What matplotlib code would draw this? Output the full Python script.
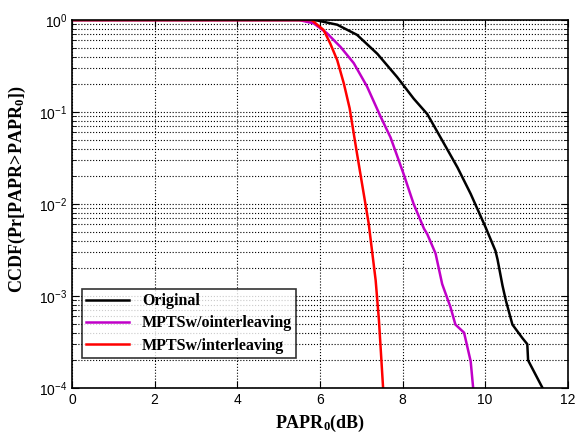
import matplotlib
matplotlib.use('Agg')
import matplotlib.pyplot as plt
import numpy as np
from matplotlib.ticker import LogLocator, NullFormatter, MultipleLocator

plt.rcParams['font.family'] = ['Liberation Sans', 'DejaVu Sans']
plt.rcParams['mathtext.fontset'] = 'custom'
plt.rcParams['mathtext.bf'] = 'Liberation Serif:bold'
plt.rcParams['mathtext.rm'] = 'Liberation Sans'
plt.rcParams['mathtext.default'] = 'regular'

# Original
orig_x = [0, 5.6, 5.93, 6.42, 6.90, 7.39, 7.87, 8.27, 8.60, 8.92, 9.33, 9.65, 10.01,
          10.25, 10.30, 10.42, 10.50, 10.66, 10.90, 11.02, 11.04, 11.39]
orig_y = [1.0, 1.0, 0.99, 0.89, 0.69, 0.43, 0.24, 0.14, 0.095, 0.053, 0.025, 0.0129, 0.0056,
          0.0031, 0.0025, 0.0013, 0.0009, 0.00049, 0.00035, 0.0003, 0.0002, 0.0001]

# MPTS w/o interleaving
wo_x = [0, 5.5, 5.85, 6.17, 6.50, 6.82, 7.14, 7.47, 7.71, 8.03, 8.27, 8.52, 8.60, 8.80,
        8.96, 9.16, 9.28, 9.49, 9.65, 9.71]
wo_y = [1.0, 1.0, 0.92, 0.72, 0.51, 0.34, 0.19, 0.089, 0.053, 0.021, 0.01, 0.0054, 0.0047, 0.0029,
        0.00135, 0.00076, 0.00049, 0.0004, 0.000195, 0.0001]

# MPTS w/ interleaving
w_x = [0, 5.8, 6.09, 6.25, 6.42, 6.58, 6.72, 6.90, 7.06, 7.18, 7.35, 7.43, 7.53]
w_y = [1.0, 1.0, 0.78, 0.557, 0.366, 0.204, 0.11, 0.035, 0.013, 0.0062, 0.00148, 0.00054, 0.0001]

fig = plt.figure(figsize=(5.77, 4.36), dpi=100)
ax = fig.add_axes([0.1248, 0.110, 0.8592, 0.844])

ax.semilogy(orig_x, orig_y, color='black', lw=1.8, label='Original')
ax.semilogy(wo_x, wo_y, color='#c000c8', lw=1.8, label='MPTSw/ointerleaving')
ax.semilogy(w_x, w_y, color='#ff0000', lw=1.8, label='MPTSw/interleaving')

ax.set_xlim(0, 12)
ax.set_ylim(1e-4, 1)
ax.xaxis.set_major_locator(MultipleLocator(2))
ax.yaxis.set_major_locator(LogLocator(base=10, numticks=10))
ax.yaxis.set_minor_locator(LogLocator(base=10, subs=np.arange(2, 10), numticks=10))
ax.yaxis.set_minor_formatter(NullFormatter())

ax.grid(True, which='major', color='black', linestyle=':', lw=0.8)
ax.grid(True, which='minor', axis='y', color='black', linestyle=':', lw=0.8)

ax.tick_params(which='both', direction='in', top=True, right=True, labelsize=10)
ax.tick_params(which='major', length=5)
ax.tick_params(which='minor', length=3)
for s in ax.spines.values():
    s.set_linewidth(1.2)

ax.set_xlabel('PAPR$_{\\mathbf{0}}$(dB)', family='Liberation Serif', weight='bold', fontsize=13)
ax.set_ylabel('CCDF(Pr[PAPR>PAPR$_{\\mathbf{0}}$])', family='Liberation Serif', weight='bold', fontsize=13)
ax.yaxis.set_label_coords(-0.089, 0.54)

leg = ax.legend(loc='lower left', bbox_to_anchor=(0.02, 0.082), borderaxespad=0,
                fancybox=False, edgecolor='black',
                prop={'family': 'Liberation Serif', 'weight': 'bold', 'size': 11.5},
                handlelength=2.7, borderpad=0.25, labelspacing=0.4)
leg.get_frame().set_linewidth(1.2)

fig.savefig('out.png', dpi=100)
